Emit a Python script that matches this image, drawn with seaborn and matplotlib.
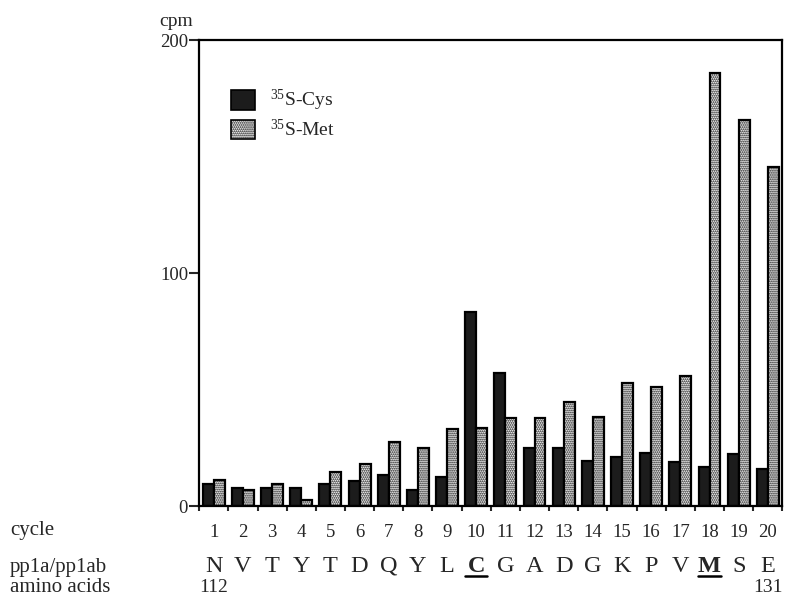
import pandas as pd
import matplotlib.pyplot as plt
import matplotlib.transforms as mtransforms
from matplotlib.patches import Patch
import seaborn as sns

# datos (cpm por ciclo de Edman)
cycles = [str(i) for i in range(1, 21)]
cys_cpm = [9.4, 7.7, 7.7, 7.7, 9.4, 10.7, 13.3, 6.9, 12.4, 83.3,
           57, 24.9, 24.9, 19.3, 21, 22.7, 18.9, 16.7, 22.3, 15.9]
met_cpm = [11.2, 6.9, 9.4, 2.6, 14.6, 18, 27.5, 24.9, 33, 33.5,
           37.8, 37.8, 44.6, 38.2, 52.8, 51, 55.8, 186, 165.7, 145.5]
amino_acids = ["N", "V", "T", "Y", "T", "D", "Q", "Y", "L", "C",
               "G", "A", "D", "G", "K", "P", "V", "M", "S", "E"]
underlined = ["C", "M"]
series_names = ["$^{35}$S-Cys", "$^{35}$S-Met"]
first_res, last_res = "112", "131"

df = pd.DataFrame({
    "cycle": cycles * 2,
    "cpm": cys_cpm + met_cpm,
    "isotope": ["Cys"] * 20 + ["Met"] * 20,
})

sns.set_style("white")
plt.rcParams["font.family"] = ["Liberation Serif", "DejaVu Serif"]
plt.rcParams["mathtext.fontset"] = "custom"
plt.rcParams["mathtext.rm"] = "Liberation Serif"
plt.rcParams["mathtext.it"] = "Liberation Serif"
plt.rcParams["mathtext.bf"] = "Liberation Serif:bold"
plt.rcParams["hatch.linewidth"] = 0.9

fig = plt.figure(figsize=(8, 6.07), dpi=100)
ax = fig.add_axes([0.249, 0.166, 0.729, 0.768])

sns.barplot(data=df, x="cycle", y="cpm", hue="isotope", order=cycles,
            palette={"Cys": "#1c1c1c", "Met": "white"}, width=0.75,
            edgecolor="black", linewidth=1.6, legend=False, ax=ax)

for bar in ax.containers[1]:
    bar.set_hatch("........")

ax.set_xlim(-0.5, 19.5)
ax.set_ylim(0, 200)
ax.set_xlabel("")
ax.set_ylabel("")
ax.set_yticks([0, 100, 200])
ax.tick_params(axis="y", direction="out", length=7, width=1.5,
               labelsize=13.5, left=True, pad=1)
ax.tick_params(axis="x", which="major", length=0, labelsize=13.5, pad=13)
ax.set_xticks([i - 0.5 for i in range(21)], minor=True)
ax.tick_params(axis="x", which="minor", direction="out", length=3.5,
               width=1.5, bottom=True)
for sp in ax.spines.values():
    sp.set_linewidth(1.6)
    sp.set_color("black")

ax.text(-0.01, 1.03, "cpm", transform=ax.transAxes, ha="right",
        va="baseline", fontsize=14)

handles = [Patch(facecolor="#1c1c1c", edgecolor="black", linewidth=1.2),
           Patch(facecolor="white", edgecolor="black", hatch="........", linewidth=1.2)]
ax.legend(handles, series_names, loc="upper left", bbox_to_anchor=(0.025, 0.935),
          frameon=False, fontsize=14, handlelength=1.2, handleheight=1.2,
          handletextpad=0.8, labelspacing=0.3)

# filas de texto bajo el eje
trans = mtransforms.blended_transform_factory(ax.transData, fig.transFigure)
fig.text(0.0125, 0.1186, "cycle", ha="left", va="baseline", fontsize=15)
fig.text(0.0125, 0.0577, "pp1a/pp1ab", ha="left", va="baseline", fontsize=15)
fig.text(0.0125, 0.0247, "amino acids", ha="left", va="baseline", fontsize=15)

for i, aa in enumerate(amino_acids):
    bold = aa in underlined and i in (9, 17)
    ax.text(i, 0.0577, aa, transform=trans, ha="center", va="baseline",
            fontsize=17.5, fontweight="bold" if bold else "normal")
    if bold:
        ax.plot([i - 0.38, i + 0.38], [0.0505, 0.0505], transform=trans,
                color="black", lw=1.8, clip_on=False)

ax.text(0, 0.0247, first_res, transform=trans, ha="center", va="baseline", fontsize=14)
ax.text(19, 0.0247, last_res, transform=trans, ha="center", va="baseline", fontsize=14)

fig.savefig("out.png", dpi=100)
plt.close(fig)
